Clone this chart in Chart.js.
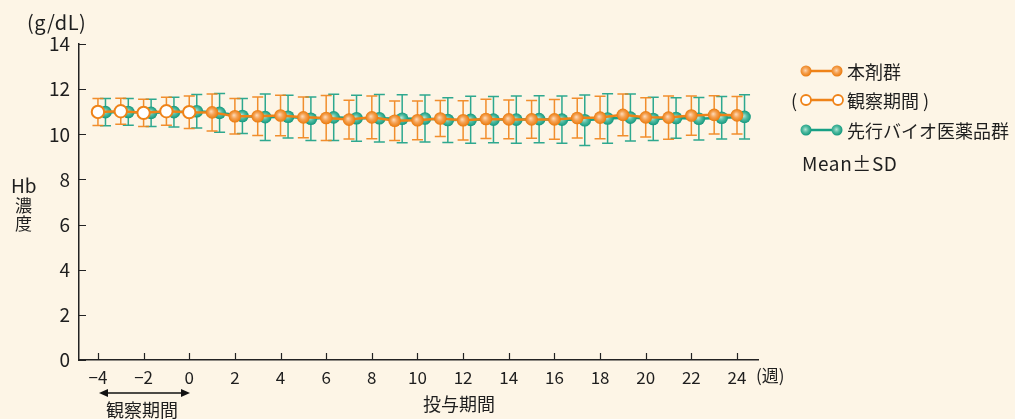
<!DOCTYPE html>
<html>
<head>
<meta charset="utf-8">
<script src="https://cdn.jsdelivr.net/npm/chart.js@4.4.1/dist/chart.umd.min.js"></script>
<style>
  html,body{margin:0;padding:0;background:#fdf5e6;}
  #wrap{position:relative;width:1015px;height:419px;overflow:hidden;background:#fdf5e6;
        font-family:"Noto Sans CJK JP","Noto Sans",sans-serif;color:#1e1e1e;}
  canvas{position:absolute;left:0;top:0;}
  .t{position:absolute;white-space:nowrap;line-height:1;}
  svg{position:absolute;left:0;top:0;}
</style>
</head>
<body>
<div id="wrap">
  <canvas id="c" width="1015" height="419"></canvas>
  <svg width="1015" height="419">
    <defs>
      <radialGradient id="go" cx="45%" cy="45%" r="55%">
        <stop offset="0" stop-color="#fcd6b2"/><stop offset="0.45" stop-color="#f5a254"/><stop offset="1" stop-color="#ea7a0c"/>
      </radialGradient>
      <radialGradient id="gt" cx="45%" cy="45%" r="55%">
        <stop offset="0" stop-color="#b2e3d4"/><stop offset="0.45" stop-color="#55bda3"/><stop offset="1" stop-color="#12987d"/>
      </radialGradient>
    </defs>
    <line x1="806" y1="71" x2="837" y2="71" stroke="#ef8318" stroke-width="2.5"/>
    <circle cx="806" cy="71" r="5.5" fill="url(#go)"/>
    <circle cx="837" cy="71" r="5.5" fill="url(#go)"/>
    <line x1="806" y1="100" x2="838" y2="100" stroke="#ef8318" stroke-width="2.5"/>
    <circle cx="806" cy="100" r="5" fill="#fff" stroke="#ef8318" stroke-width="1.8"/>
    <circle cx="838" cy="100" r="5" fill="#fff" stroke="#ef8318" stroke-width="1.8"/>
    <line x1="806" y1="130" x2="837" y2="130" stroke="#17a085" stroke-width="2.5"/>
    <circle cx="806" cy="130" r="5.5" fill="url(#gt)"/>
    <circle cx="837" cy="130" r="5.5" fill="url(#gt)"/>
    <line x1="106" y1="393" x2="183" y2="393" stroke="#111" stroke-width="1.5"/>
    <polygon points="99,393 108,389 108,397" fill="#111"/>
    <polygon points="190,393 181,389 181,397" fill="#111"/>
  </svg>
  <div class="t" style="left:27px;top:12px;font-size:20px;letter-spacing:0.5px;">(g/dL)</div>
  <div class="t" style="left:11px;top:175px;font-size:19px;">Hb</div>
  <div class="t" style="left:15px;top:196px;font-size:17px;">濃</div>
  <div class="t" style="left:15px;top:214px;font-size:17px;">度</div>
  <div class="t" style="left:756px;top:366px;font-size:17px;">(週)</div>
  <div class="t" style="left:106px;top:400px;font-size:18px;">観察期間</div>
  <div class="t" style="left:423px;top:394px;font-size:18px;">投与期間</div>
  <div class="t" style="left:847px;top:62px;font-size:18px;">本剤群</div>
  <div class="t" style="left:791px;top:91px;font-size:18px;">(</div>
  <div class="t" style="left:847px;top:91px;font-size:18px;">観察期間 )</div>
  <div class="t" style="left:847px;top:121px;font-size:18px;">先行バイオ医薬品群</div>
  <div class="t" style="left:802px;top:153px;font-size:19px;letter-spacing:0.6px;">Mean±SD</div>
</div>
<script>
const weeks = [-4,-3,-2,-1,0,1,2,3,4,5,6,7,8,9,10,11,12,13,14,15,16,17,18,19,20,21,22,23,24];
const drugMean = [10.99,11.02,10.95,11.02,10.98,10.97,10.80,10.80,10.83,10.75,10.72,10.65,10.75,10.60,10.62,10.70,10.62,10.68,10.66,10.66,10.66,10.72,10.74,10.86,10.75,10.74,10.83,10.86,10.84];
const drugSD   = [0.60,0.58,0.60,0.62,0.72,0.82,0.79,0.85,0.90,0.90,1.00,0.86,0.95,0.87,0.86,0.80,0.87,0.87,0.86,0.84,0.88,0.88,0.94,0.92,0.87,0.96,0.87,0.85,0.83];
const refMean  = [10.98,10.99,10.95,10.98,11.02,10.95,10.81,10.76,10.78,10.69,10.75,10.71,10.71,10.69,10.70,10.63,10.64,10.65,10.65,10.67,10.65,10.62,10.70,10.74,10.68,10.72,10.69,10.73,10.77];
const refSD    = [0.60,0.59,0.60,0.66,0.74,0.86,0.78,1.03,0.95,0.96,1.02,1.02,1.05,1.06,1.04,0.99,1.04,1.02,1.05,1.04,1.05,1.12,1.10,1.04,0.96,0.90,0.94,0.94,0.98];
const xTicks = [-4,-2,0,2,4,6,8,10,12,14,16,18,20,22,24];
const yTicks = [0,2,4,6,8,10,12,14];
const refOffset = 0.33;

const ORANGE = '#ef8318', TEAL = '#17a085';

function grad(ctx, x, y, r, stops){
  const g = ctx.createRadialGradient(x-1, y-1, 0.3, x, y, r);
  stops.forEach(s => g.addColorStop(s[0], s[1])); return g;
}

const markPlugin = {
  id: 'marks',
  beforeDatasetDraw(chart, args){
    const ds = chart.data.datasets[args.index];
    const ctx = chart.ctx, ys = chart.scales.y;
    ctx.save();
    ctx.strokeStyle = ds.errColor; ctx.lineWidth = 1.5;
    args.meta.data.forEach((pt, i) => {
      const m = ds.data[i].y, s = ds.sd[i];
      const yt = ys.getPixelForValue(m + s), yb = ys.getPixelForValue(m - s);
      ctx.beginPath();
      ctx.moveTo(pt.x, yt); ctx.lineTo(pt.x, yb);
      ctx.moveTo(pt.x - 5.5, yt); ctx.lineTo(pt.x + 5.5, yt);
      ctx.moveTo(pt.x - 5.5, yb); ctx.lineTo(pt.x + 5.5, yb);
      ctx.stroke();
    });
    ctx.restore();
  },
  afterDatasetDraw(chart, args){
    const ds = chart.data.datasets[args.index];
    const ctx = chart.ctx;
    ctx.save();
    args.meta.data.forEach((pt, i) => {
      const open = ds.openUntil !== undefined && ds.data[i].x <= ds.openUntil;
      ctx.beginPath();
      if (open) {
        ctx.arc(pt.x, pt.y, 6.2, 0, Math.PI*2);
        ctx.fillStyle = '#ffffff'; ctx.fill();
        ctx.lineWidth = 2; ctx.strokeStyle = ORANGE; ctx.stroke();
      } else {
        ctx.arc(pt.x, pt.y, 6.3, 0, Math.PI*2);
        ctx.fillStyle = grad(ctx, pt.x, pt.y, 6.3, ds.stops);
        ctx.fill();
      }
    });
    ctx.restore();
  },
  afterDraw(chart){
    const ctx = chart.ctx, xs = chart.scales.x, ys = chart.scales.y, a = chart.chartArea;
    ctx.save();
    ctx.strokeStyle = '#222'; ctx.lineWidth = 1.2;
    ctx.beginPath();
    xTicks.forEach(v => { const x = Math.round(xs.getPixelForValue(v)) + 0.5; ctx.moveTo(x, a.bottom); ctx.lineTo(x, a.bottom - 7); });
    yTicks.forEach(v => { const y = Math.round(ys.getPixelForValue(v)) + 0.5; ctx.moveTo(a.left, y); ctx.lineTo(a.left + 7, y); });
    ctx.stroke();
    ctx.restore();
  }
};

const ctx = document.getElementById('c').getContext('2d');
new Chart(ctx, {
  type: 'scatter',
  data: {
    datasets: [
      {
        label: '本剤群',
        data: weeks.map((w, i) => ({x: w, y: drugMean[i]})),
        sd: drugSD, openUntil: 0,
        showLine: true, borderColor: ORANGE, borderWidth: 2.5,
        stops: [[0,'#fcd6b2'],[0.45,'#f5a254'],[1,'#ea7a0c']],
        errColor: 'rgba(239,131,24,0.9)', pointRadius: 0, pointHoverRadius: 0, order: 0
      },
      {
        label: '先行バイオ医薬品群',
        data: weeks.map((w, i) => ({x: w + refOffset, y: refMean[i]})),
        sd: refSD,
        showLine: true, borderColor: TEAL, borderWidth: 2.5,
        stops: [[0,'#b2e3d4'],[0.45,'#55bda3'],[1,'#12987d']],
        errColor: 'rgba(23,160,133,0.9)', pointRadius: 0, pointHoverRadius: 0, order: 1
      }
    ]
  },
  options: {
    responsive: false, animation: false, devicePixelRatio: 1,
    layout: { padding: { left: 0, top: 44, right: 257, bottom: 0 } },
    plugins: { legend: { display: false }, tooltip: { enabled: false } },
    scales: {
      x: {
        type: 'linear', min: -4.83, max: 24.92,
        afterFit(s){ s.height = 59; },
        afterBuildTicks(s){ s.ticks = xTicks.map(v => ({value: v})); },
        grid: { display: false, drawTicks: false },
        border: { display: true, color: '#222', width: 1.5 },
        ticks: { padding: 7, color: '#1e1e1e', font: { family: '"Noto Sans CJK JP", sans-serif', size: 17 },
                 maxRotation: 0, autoSkip: false,
                 callback: v => String(v).replace('-', '\u2212') }
      },
      y: {
        type: 'linear', min: 0, max: 14,
        afterFit(s){ s.width = 79; },
        afterBuildTicks(s){ s.ticks = yTicks.map(v => ({value: v})); },
        grid: { display: false, drawTicks: false },
        border: { display: true, color: '#222', width: 1.5 },
        ticks: { padding: 9, color: '#1e1e1e', font: { family: '"Noto Sans CJK JP", sans-serif', size: 19 } }
      }
    }
  },
  plugins: [markPlugin]
});
</script>
</body>
</html>
